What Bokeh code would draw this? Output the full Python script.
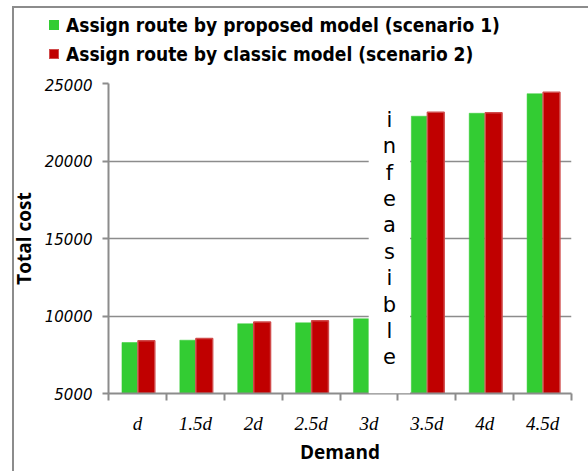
from bokeh.plotting import figure
from bokeh.layouts import column
from bokeh.models import (ColumnDataSource, FixedTicker, Label, Range1d,
                          NumeralTickFormatter, Div)
from bokeh.transform import dodge
from bokeh.embed import file_html
from bokeh.resources import INLINE

categories = ["d", "1.5d", "2d", "2.5d", "3d", "3.5d", "4d", "4.5d"]
proposed = [8290, 8440, 9500, 9560, 9820, 22890, 23080, 24340]
classic = [8400, 8550, 9620, 9690, float("nan"), 23150, 23110, 24440]
y_ticks = [5000, 10000, 15000, 20000, 25000]
series_names = ["Assign route by proposed model (scenario 1)",
                "Assign route by classic model (scenario 2)"]

GREEN, RED, RED_EDGE, GREY = "#33cc33", "#c00000", "#d04a4a", "#8c8c8c"
series_fill = [GREEN, RED]
series_edge = [GREEN, RED_EDGE]

n = len(categories)
centers = [i + 0.5 for i in range(n)]
src = ColumnDataSource(dict(x=centers, proposed=proposed, classic=classic))

# ---- legend strip above the plot area ----
rows = []
for i, (name, fc, ec) in enumerate(zip(series_names, series_fill, series_edge)):
    t = 14 + 29 * i
    rows.append(
        f'<span style="position:absolute;left:49px;top:{t + 6}px;width:10px;height:10px;'
        f'background:{fc};border:1px solid {ec};"></span>'
        f'<span style="position:absolute;left:66px;top:{t}px;line-height:22px;white-space:nowrap;'
        f'font-family:\'DejaVu Sans Condensed\';font-weight:bold;font-size:19px;color:black;">'
        f'{name}</span>')
legend_div = Div(text='<div style="position:relative;width:588px;height:78px;">' + "".join(rows) + "</div>",
                 width=588, height=78, margin=0)

# ---- main chart ----
p = figure(width=588, height=393, output_backend="svg", toolbar_location=None,
           x_range=Range1d(0, n), y_range=Range1d(5000, 25000),
           min_border_left=108, min_border_right=17, min_border_top=5, min_border_bottom=78)
p.outline_line_color = None
p.background_fill_color = None
p.border_fill_color = None

p.vbar(x=dodge("x", -0.135), top="proposed", bottom=5000, width=0.265, source=src,
       fill_color=GREEN, line_color=GREEN, line_width=0.5, legend_label=series_names[0])
p.vbar(x=dodge("x", 0.155), top="classic", bottom=5000, width=0.29, source=src,
       fill_color=RED, line_color=RED_EDGE, line_width=1.5, legend_label=series_names[1])
p.legend.visible = False

p.xaxis.ticker = FixedTicker(ticks=centers, minor_ticks=list(range(n + 1)))
p.xaxis.major_label_overrides = {c: lab for c, lab in zip(centers, categories)}
p.xaxis.major_tick_line_color = None
p.xaxis.minor_tick_in = 0
p.xaxis.minor_tick_out = 7
p.xaxis.minor_tick_line_color = GREY
p.xaxis.minor_tick_line_width = 2
p.xaxis.axis_line_color = GREY
p.xaxis.axis_line_width = 2
p.xaxis.major_label_text_font = "Liberation Serif"
p.xaxis.major_label_text_font_style = "italic"
p.xaxis.major_label_text_font_size = "19px"
p.xaxis.major_label_text_color = "black"
p.xaxis.major_label_standoff = 12
p.xaxis.axis_label = "Demand"
p.xaxis.axis_label_text_font = "Open Sans"
p.xaxis.axis_label_text_font_style = "bold"
p.xaxis.axis_label_text_font_size = "19px"
p.xaxis.axis_label_text_color = "black"
p.xaxis.axis_label_standoff = 2

p.yaxis.ticker = FixedTicker(ticks=y_ticks)
p.yaxis.minor_tick_line_color = None
p.yaxis.major_tick_in = 0
p.yaxis.major_tick_out = 6
p.yaxis.major_tick_line_color = GREY
p.yaxis.major_tick_line_width = 2
p.yaxis.axis_line_color = GREY
p.yaxis.axis_line_width = 2
p.yaxis.formatter = NumeralTickFormatter(format="0")
p.yaxis.major_label_text_font = "DejaVu Sans"
p.yaxis.major_label_text_font_style = "italic"
p.yaxis.major_label_text_font_size = "15px"
p.yaxis.major_label_text_color = "black"
p.yaxis.major_label_standoff = 10
p.yaxis.axis_label = "Total cost"
p.yaxis.axis_label_text_font = "Open Sans"
p.yaxis.axis_label_text_font_style = "bold"
p.yaxis.axis_label_text_font_size = "19px"
p.yaxis.axis_label_text_color = "black"
p.yaxis.axis_label_standoff = 5

p.xgrid.grid_line_color = None
p.ygrid.ticker = FixedTicker(ticks=y_ticks)
p.ygrid.grid_line_color = GREY
p.ygrid.grid_line_width = 1.5

note = Label(x=4.853, y=5000, text="\n".join("infeasible"), text_align="center",
             text_baseline="bottom", text_font="DejaVu Sans", text_font_size="21px",
             text_color="black", text_line_height=1.1, background_fill_color="white",
             padding=dict(left=14, right=14, top=3, bottom=24))
p.add_layout(note)

line = f"linear-gradient({GREY}, {GREY})"
layout = column(legend_div, p, spacing=0,
                styles={"background": f"{line} 12px 6px / 2px 100% no-repeat, "
                                      f"{line} 12px 6px / 100% 2px no-repeat, white"})

open("out.html", "w").write(file_html(layout, INLINE))
